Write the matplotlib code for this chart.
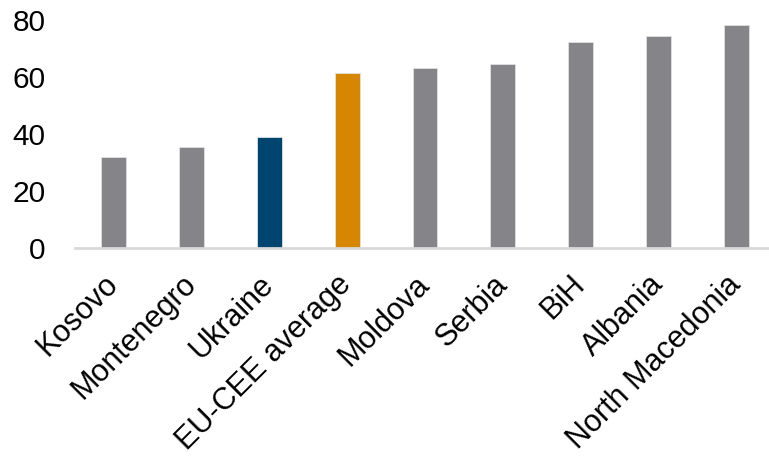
import matplotlib.pyplot as plt
import numpy as np

plt.rcParams['font.family'] = ['Liberation Sans', 'DejaVu Sans']

countries = ['Kosovo', 'Montenegro', 'Ukraine', 'EU-CEE average', 'Moldova',
             'Serbia', 'BiH', 'Albania', 'North Macedonia']
values = [31.8, 35.5, 38.9, 61.4, 63.0, 64.6, 72.4, 74.3, 78.1]
colors = ['#858589', '#858589', '#004570', '#d68600', '#858589',
          '#858589', '#858589', '#858589', '#858589']
yticks = [0, 20, 40, 60, 80]

fig = plt.figure(figsize=(7.69, 4.61), dpi=100)
ax = fig.add_axes([74.5 / 769, 1 - 248 / 461, 701 / 769, 228 / 461])

x = np.arange(len(countries))
ax.bar(x, values, width=0.32, color=colors, edgecolor='#e0e0e0', linewidth=0.6, zorder=2)

ax.set_xlim(-0.5, len(countries) - 0.5)
ax.set_ylim(0, 80)
ax.set_yticks(yticks)
ax.set_yticklabels([str(t) for t in yticks], fontsize=21.5)
ax.set_xticks(x)
ax.set_xticklabels(countries, fontsize=22, rotation=45, ha='right', va='center',
                   rotation_mode='anchor')

for side in ['top', 'right', 'left']:
    ax.spines[side].set_visible(False)
ax.spines['bottom'].set_color('#d9d9d9')
ax.spines['bottom'].set_linewidth(2)
ax.tick_params(axis='y', length=0, pad=21)
ax.tick_params(axis='x', length=0, pad=23)

fig.savefig('out.png', dpi=100)
